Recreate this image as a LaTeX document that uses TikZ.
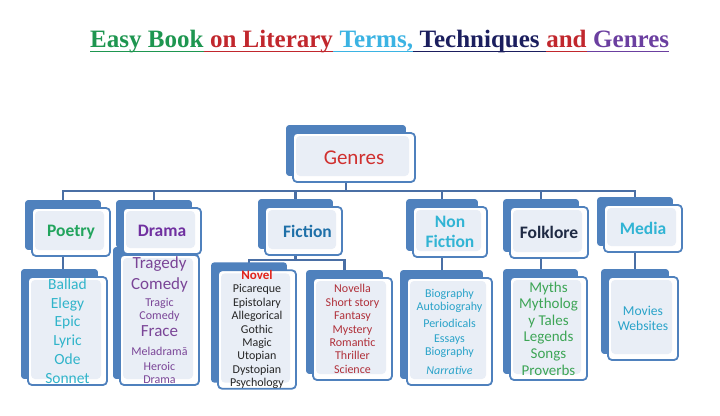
\documentclass[tikz,border=0pt]{standalone}
\usepackage{fontspec}
\setmainfont{Carlito}
\newfontfamily\titlefont{Liberation Serif}
\usetikzlibrary{backgrounds}

\definecolor{boxblue}{HTML}{4F81BD}
\definecolor{linkblue}{HTML}{4A6FA5}
\definecolor{boxfill}{HTML}{E9EEF6}
\definecolor{easygreen}{HTML}{1E9650}
\definecolor{litred}{HTML}{C1272D}
\definecolor{termcyan}{HTML}{3BB3E3}
\definecolor{technavy}{HTML}{1B1E5E}
\definecolor{genpurple}{HTML}{6B3FA0}
\definecolor{genresred}{HTML}{D0302F}
\definecolor{poetgreen}{HTML}{22A45D}
\definecolor{dramapurple}{HTML}{7030A0}
\definecolor{fictblue}{HTML}{1F70A8}
\definecolor{nfcyan}{HTML}{31B4D4}
\definecolor{folknavy}{HTML}{1F2A44}
\definecolor{poetcyan}{HTML}{30B4CA}
\definecolor{dramalight}{HTML}{7A4597}
\definecolor{novelred}{HTML}{E2231A}
\definecolor{novellared}{HTML}{B0303A}
\definecolor{nflist}{HTML}{2AA3C9}
\definecolor{folkgreen}{HTML}{3DA556}

\newcommand{\bigline}[1]{\smash{\fontsize{17}{17}\selectfont #1}}
\newcommand{\smallline}[1]{\smash{\fontsize{12}{12}\selectfont #1}}

\begin{document}
\begin{tikzpicture}[x=1pt,y=-1pt]
	\tikzstyle{front}=[draw=boxblue,line width=1.8pt,rounded corners=4pt,fill=white,inner sep=0pt,align=center,
		path picture={\fill[boxfill] ([shift={(3pt,-3pt)}]path picture bounding box.north west) rectangle ([shift={(-6pt,6pt)}]path picture bounding box.south east);}];
	\tikzstyle{back}=[fill=boxblue,rounded corners=3pt];
	\tikzstyle{conn}=[draw=linkblue,line width=2.4pt];
	\tikzstyle{head}=[font=\bfseries\fontsize{17.5}{20}\selectfont];
	\tikzstyle{list}=[font=\fontsize{12}{13.4}\selectfont];
	\tikzstyle{titlepart}=[anchor=base west,inner sep=0pt,font=\titlefont\bfseries\fontsize{25}{29}\selectfont];

	\useasboundingbox (0,0) rectangle (720,415);

	% title
	\node[titlepart,text=easygreen] (t1) at (90,47)      {Easy Book};
	\node[titlepart,text=litred]    (t2) at (t1.base east) {~on Literary};
	\node[titlepart,text=termcyan]  (t3) at (t2.base east) {~Terms,};
	\node[titlepart,text=technavy]  (t4) at (t3.base east) {~Techniques~~};
	\node[titlepart,text=litred]    (t5) at (t4.base east) {and};
	\node[titlepart,text=genpurple] (t6) at (t5.base east) {~Genres};
	\foreach \t/\c in {t1/easygreen,t2/litred,t3/termcyan,t4/technavy,t5/litred,t6/genpurple}
		\draw[\c,line width=1.6pt] ([yshift=-4.5pt]\t.base west) -- ([yshift=-4.5pt]\t.base east);

	% top and second row
	\node[front,minimum width=122,minimum height=49,font=\fontsize{21}{25}\selectfont,text=genresred] (genres) at (354,157.5) {Genres};
	\node[front,head,minimum width=78,minimum height=48,text=poetgreen]   (poetry)  at (71,232)    {Poetry};
	\node[front,head,minimum width=78,minimum height=46,text=dramapurple] (drama)   at (162,231)   {Drama};
	\node[front,head,minimum width=77,minimum height=48,text=fictblue]    (fiction) at (303.5,231) {\hspace*{8pt}Fiction};
	\node[front,head,minimum width=74,minimum height=50,text=nfcyan]      (nonfic)  at (450,232)   {Non\\Fiction};
	\node[front,head,minimum width=78,minimum height=51,text=folknavy]    (folk)    at (549,232.5) {\raisebox{-9pt}{Folklore}};
	\node[front,head,minimum width=78,minimum height=47,text=nfcyan]      (media)   at (643,228.5) {Media};

	% lists
	\node[front,minimum width=79,minimum height=108,font=\fontsize{15.5}{18.8}\selectfont,text=poetcyan] (poetrylist) at (67.5,331)
		{Ballad\\Elegy\\Epic\\Lyric\\Ode\\Sonnet};
	\node[front,minimum width=79,minimum height=130,font=\fontsize{12}{13}\selectfont,text=dramalight] (dramalist) at (159.5,320)
		{\mbox{}\\[-1pt]\bigline{Tragedy}\\[8pt]\bigline{Comedy}\\[4pt]\smallline{Tragic}\\\smallline{Comedy}\\[4pt]\bigline{Frace}\\[6pt]\smallline{Meladramā}\\[2pt]\smallline{Heroic}\\\smallline{Drama}};
	\node[front,list,minimum width=78,minimum height=115,text=black!85] (novel) at (257,329.5)
		{\textcolor{novelred}{\bfseries\fontsize{13}{13.4}\selectfont Novel}\\Picareque\\Epistolary\\Allegorical\\Gothic\\Magic\\Utopian\\Dystopian\\Psychology};
	\node[front,list,minimum width=79,minimum height=102,text=novellared] (novella) at (352.5,329)
		{Novella\\Short story\\Fantasy\\Mystery\\Romantic\\Thriller\\Science};
	\node[front,list,minimum width=85,minimum height=107,text=nflist] (nonficlist) at (449.5,331.5)
		{Biography\\Autobiograhy\\[4pt]Periodicals\\[1pt]Essays\\Biography\\[5pt]\itshape Narrative};
	\node[front,minimum width=77,minimum height=103,font=\fontsize{15}{16.6}\selectfont,text=folkgreen] (folklist) at (548.5,328.5)
		{Myths\\Mytholog\\y Tales\\Legends\\Songs\\Proverbs};
	\node[front,minimum width=70,minimum height=83,font=\fontsize{13.6}{15}\selectfont,text=nflist] (medialist) at (643,318.5)
		{Movies\\Websites};

	\begin{scope}[on background layer]
		\fill[white] (0,0) rectangle (720,415);
		% connectors
		\draw[conn] ([xshift=-8pt]genres.south) -- ++(0,8) coordinate (bus);
		\foreach \c in {poetry,drama,fiction,nonfic,folk,media}
			\draw[conn] (bus) -| ([xshift=-8pt]\c.north);
		\foreach \a/\b in {poetry/poetrylist,drama/dramalist,nonfic/nonficlist,folk/folklist,media/medialist}
			\draw[conn] ([xshift=-8pt]\a.south) -- ([xshift=-8pt]\a.south |- \b.north);
		\draw[conn] ([xshift=-8pt]fiction.south) -- ++(0,4) coordinate (fbus);
		\draw[conn] (fbus) -| ([xshift=-8pt]novel.north);
		\draw[conn] (fbus) -| ([xshift=-8pt]novella.north);
		% back plates
		\foreach \n in {genres,poetry,drama,fiction,nonfic,folk,media,poetrylist,dramalist,novel,novella,nonficlist,folklist,medialist}
			\fill[back] ([xshift=-6pt,yshift=7pt]\n.north west) rectangle ([xshift=-10pt,yshift=7pt]\n.south east);
	\end{scope}
\end{tikzpicture}
\end{document}
